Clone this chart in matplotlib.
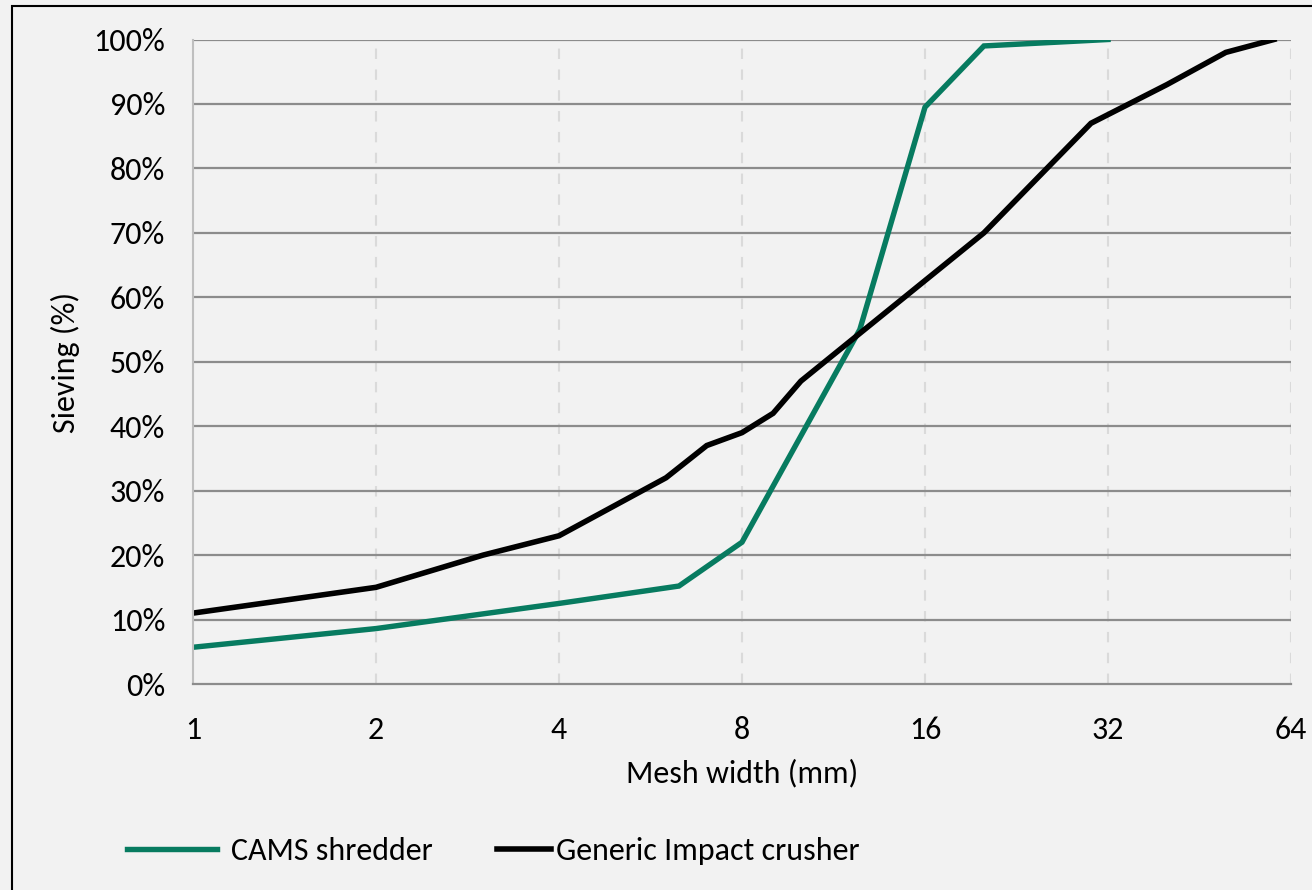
import matplotlib
matplotlib.use('Agg')
import matplotlib.pyplot as plt
from matplotlib.patches import Rectangle
from matplotlib.ticker import FixedLocator, FuncFormatter

# %% data (mesh width in mm, passing in %)
cams_x=[1,2,4,6.3,8,12.5,16,20,32]
cams_y=[5.7,8.6,12.5,15.2,22,55,89.5,99,100]
imp_x=[1,2,3,4,6,7,8,9,10,20,30,40,50,60]
imp_y=[11,15,20,23,32,37,39,42,47,70,87,93,98,100]
xticks=[1,2,4,8,16,32,64]
yticks=[0,10,20,30,40,50,60,70,80,90,100]
names=['CAMS shredder','Generic Impact crusher']

plt.rcParams['font.family']=['Carlito','Liberation Sans Narrow','DejaVu Sans']
bg='#F2F2F2'
green='#077B60'
fs=23

W,H=1312,890
fig=plt.figure(figsize=(W/100,H/100),dpi=100,facecolor=bg)
ax=fig.add_axes([193/W,1-684/H,(1291-193)/W,(684-39.5)/H])
ax.set_facecolor(bg)

ax.plot(cams_x,cams_y,color=green,lw=3.9,label=names[0],solid_joinstyle='miter')
ax.plot(imp_x,imp_y,color='black',lw=4.0,label=names[1],solid_joinstyle='miter')

ax.set_xscale('log',base=2)
ax.set_xlim(1,64);ax.set_ylim(0,100)
ax.xaxis.set_major_locator(FixedLocator(xticks))
ax.xaxis.set_minor_locator(FixedLocator([]))
ax.xaxis.set_major_formatter(FuncFormatter(lambda v,p:'%d'%round(v)))
ax.yaxis.set_major_locator(FixedLocator(yticks))
ax.yaxis.set_major_formatter(FuncFormatter(lambda v,p:'%d%%'%v))
ax.tick_params(axis='both',length=0,labelsize=fs)
ax.tick_params(axis='x',pad=23)
ax.tick_params(axis='y',pad=20)

# grid: solid gray horizontals, dashed light verticals
for t in yticks[1:]:
    ax.axhline(t,color='#8C8C8C',lw=1.6,zorder=0.5)
for t in xticks[1:]:
    ax.axvline(t,color='#DADADA',lw=1.5,ls=(0,(5,5)),zorder=0.4)
for s in ['top','right']:
    ax.spines[s].set_visible(False)
ax.spines['left'].set_color('#BFBFBF');ax.spines['left'].set_linewidth(1.5)
ax.spines['bottom'].set_color('#8C8C8C');ax.spines['bottom'].set_linewidth(1.6)

fig.text(742/W,1-773/H,'Mesh width (mm)',fontsize=fs,ha='center',va='center')
fig.text(65/W,1-362/H,'Sieving (%)',fontsize=fs,ha='center',va='center',rotation=90)

# legend below the plot, two separate entries like the original
h=ax.get_lines()
fig.legend([h[0]],[names[0]],loc='center left',bbox_to_anchor=(127/W,1-851/H),
           frameon=False,fontsize=fs,handlelength=90/(fs*1.389),handletextpad=14/(fs*1.389),
           borderpad=0,borderaxespad=0)
fig.legend([h[1]],[names[1]],loc='center left',bbox_to_anchor=(497/W,1-851/H),
           frameon=False,fontsize=fs,handlelength=54/(fs*1.389),handletextpad=5/(fs*1.389),
           borderpad=0,borderaxespad=0)

# chart frame, cut off at right and bottom in the original
fig.patches.append(Rectangle((12/W,-0.1),1.2,1-6/H+0.1,transform=fig.transFigure,
                             fill=False,edgecolor='black',lw=1.5,clip_on=False))

fig.savefig('out.png',dpi=100,facecolor=bg)
